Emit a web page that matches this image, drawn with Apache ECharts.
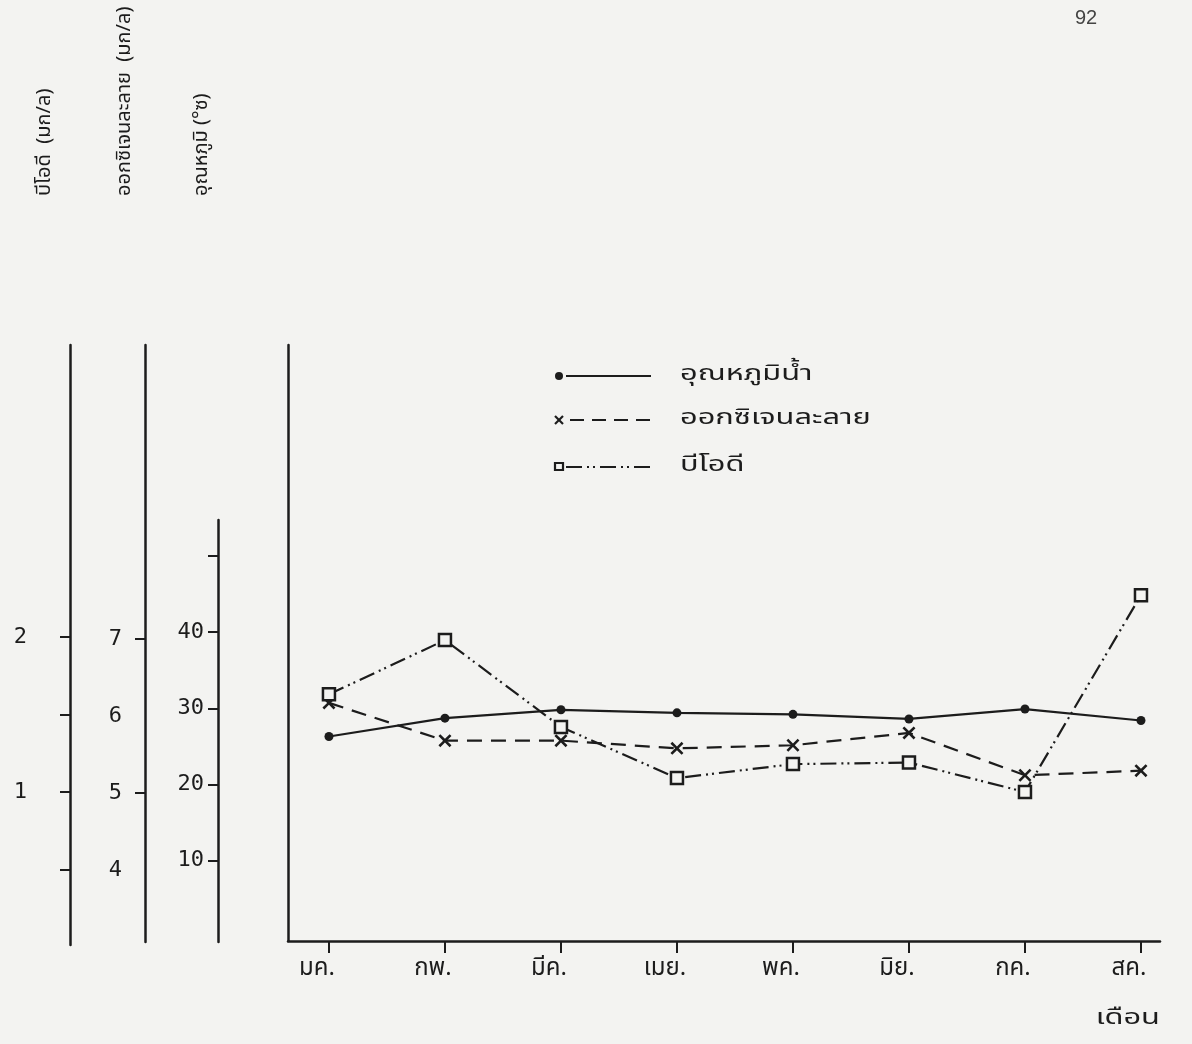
<!DOCTYPE html>
<html>
<head>
<meta charset="utf-8">
<script src="https://cdn.jsdelivr.net/npm/echarts@6/dist/echarts.min.js"></script>
<style>
html,body{margin:0;padding:0;background:#f3f3f1;}
#c{width:1192px;height:1044px;}
</style>
</head>
<body>
<div id="c"></div>
<script>
// ---- data ----
const months = ['มค.', 'กพ.', 'มีค.', 'เมย.', 'พค.', 'มิย.', 'กค.', 'สค.'];
const waterTemp = [26.3, 28.7, 29.8, 29.4, 29.2, 28.6, 29.9, 28.4];      // °C
const dissolvedO2 = [6.17, 5.68, 5.68, 5.58, 5.62, 5.78, 5.23, 5.29];    // mg/l
const bod = [1.63, 1.98, 1.42, 1.09, 1.18, 1.19, 1.00, 2.27];            // mg/l
const seriesNames = ['อุณหภูมิน้ำ', 'ออกซิเจนละลาย', 'บีโอดี'];
const bodTicks = [0.5, 1, 1.5, 2];
const bodLabels = [1, 2];
const doTicks = [5, 7];
const doLabels = [4, 5, 6, 7];
const tempTicks = [10, 20, 30, 40, 50];
const tempLabels = [10, 20, 30, 40];
const monthIndex = [0, 1, 2, 3, 4, 5, 6, 7];

const INK = '#1c1c1c';
const BG = '#f3f3f1';
const THAI = "'Noto Sans Thai','Noto Sans Thai Looped','Loma','Garuda','Norasi','Noto Sans','DejaVu Sans',sans-serif";
const MONO = "'DejaVu Sans Mono','Liberation Mono',monospace";

const pairs = arr => arr.map((v, i) => [monthIndex[i], v]);

const hiddenX = gi => ({type: 'value', gridIndex: gi, show: false, min: 0, max: 1});
const leftAxis = (gi, min, max, ticks, labels, margin) => ({
  type: 'value', gridIndex: gi, min: min, max: max, position: 'left',
  axisLine: {show: true, onZero: false, lineStyle: {color: INK, width: 2.5}},
  axisTick: {show: true, length: 10, inside: false, customValues: ticks, lineStyle: {color: INK, width: 2}},
  axisLabel: {show: true, customValues: labels, margin: margin, color: INK,
              fontFamily: MONO, fontSize: 22},
  splitLine: {show: false}
});

const chart = echarts.init(document.getElementById('c'), null, {renderer: 'canvas'});

const xMark = 'path://M0,1.4 L1.4,0 L5,3.6 L8.6,0 L10,1.4 L6.4,5 L10,8.6 L8.6,10 L5,6.4 L1.4,10 L0,8.6 L3.6,5 Z';
const wideText = (x, y, text, align, size) => ({
  type: 'text', x: x, y: y, scaleX: 1.4,
  style: {text: text, fill: INK, font: size + 'px ' + THAI, textAlign: align, textVerticalAlign: 'middle'}
});

const option = {
  backgroundColor: BG,
  animation: false,
  grid: [
    {left: 288, right: 32, top: 345, bottom: 103},   // main plot
    {left: 70, width: 1, top: 345, bottom: 99},      // BOD axis
    {left: 145, width: 1, top: 345, bottom: 102},    // DO axis
    {left: 218, width: 1, top: 520, bottom: 102}     // temperature axis
  ],
  xAxis: [
    {type: 'value', gridIndex: 0, min: -0.353, max: 7.164,
     axisLine: {show: true, onZero: false, lineStyle: {color: INK, width: 2.5}},
     axisTick: {show: true, length: 12, customValues: monthIndex, lineStyle: {color: INK, width: 2}},
     axisLabel: {show: true, customValues: monthIndex, margin: 17,
                 formatter: v => months[Math.round(v)] || '',
                 color: INK, fontFamily: THAI, fontSize: 24, padding: [0, 24, 0, 0]},
     splitLine: {show: false}},
    hiddenX(1), hiddenX(2), hiddenX(3)
  ],
  yAxis: [
    {type: 'value', gridIndex: 0, min: -0.52, max: 77.64,
     axisLine: {show: true, onZero: false, lineStyle: {color: INK, width: 2.5}},
     axisTick: {show: false}, axisLabel: {show: false}, splitLine: {show: false}},
    {type: 'value', gridIndex: 0, min: 3.078, max: 10.818, show: false},
    {type: 'value', gridIndex: 0, min: 0.0387, max: 3.884, show: false},
    leftAxis(1, 0.0129, 3.884, bodTicks, bodLabels, 43),
    leftAxis(2, 3.065, 10.818, doTicks, doLabels, 23),
    leftAxis(3, -0.656, 54.69, tempTicks, tempLabels, 14)
  ],
  series: [
    {name: seriesNames[0], type: 'line', xAxisIndex: 0, yAxisIndex: 0,
     data: pairs(waterTemp), symbol: 'circle', symbolSize: 9,
     itemStyle: {color: INK}, lineStyle: {color: INK, width: 2.2, type: 'solid'}},
    {name: seriesNames[1], type: 'line', xAxisIndex: 0, yAxisIndex: 1,
     data: pairs(dissolvedO2), symbol: xMark, symbolSize: 13,
     itemStyle: {color: INK}, lineStyle: {color: INK, width: 2.2, type: [15, 9]}},
    {name: seriesNames[2], type: 'line', xAxisIndex: 0, yAxisIndex: 2,
     data: pairs(bod), symbol: 'rect', symbolSize: 12,
     itemStyle: {color: BG, borderColor: INK, borderWidth: 2.5},
     lineStyle: {color: INK, width: 2.2, type: [16, 5, 2, 4, 2, 5]}}
  ],
  graphic: [
    // page number
    {type: 'text', x: 1075, y: 8, style: {text: '92', fill: '#444', font: "20px 'Liberation Sans',Arial,sans-serif"}},
    // rotated axis titles (read bottom-to-top)
    {type: 'text', x: 46, y: 196, rotation: Math.PI / 2,
     style: {text: 'บีโอดี  (มก/ล)', fill: INK, font: "20px " + THAI, textAlign: 'left', textVerticalAlign: 'middle'}},
    {type: 'text', x: 126, y: 196, rotation: Math.PI / 2,
     style: {text: 'ออกซิเจนละลาย  (มก/ล)', fill: INK, font: "20px " + THAI, textAlign: 'left', textVerticalAlign: 'middle'}},
    {type: 'text', x: 203, y: 196, rotation: Math.PI / 2,
     style: {text: 'อุณหภูมิ (°ซ)', fill: INK, font: "20px " + THAI, textAlign: 'left', textVerticalAlign: 'middle'}},
    // x-axis title
    wideText(1160, 1020, 'เดือน', 'right', 22),
    // legend
    {type: 'circle', shape: {cx: 559, cy: 376, r: 4}, style: {fill: INK}},
    {type: 'line', shape: {x1: 566, y1: 376, x2: 651, y2: 376}, style: {stroke: INK, lineWidth: 2.2}},
    wideText(680, 376, seriesNames[0], 'left', 22),

    {type: 'line', shape: {x1: 555, y1: 416, x2: 563, y2: 424}, style: {stroke: INK, lineWidth: 2.2}},
    {type: 'line', shape: {x1: 563, y1: 416, x2: 555, y2: 424}, style: {stroke: INK, lineWidth: 2.2}},
    {type: 'line', shape: {x1: 570, y1: 420, x2: 651, y2: 420}, style: {stroke: INK, lineWidth: 2.2, lineDash: [14, 8]}},
    wideText(680, 420, seriesNames[1], 'left', 22),

    {type: 'rect', shape: {x: 555, y: 463, width: 8, height: 7}, style: {fill: 'none', stroke: INK, lineWidth: 2.2}},
    {type: 'line', shape: {x1: 566, y1: 467, x2: 651, y2: 467}, style: {stroke: INK, lineWidth: 2.2, lineDash: [16, 5, 2, 4, 2, 5]}},
    wideText(680, 467, seriesNames[2], 'left', 22)
  ]
};
chart.setOption(option);
</script>
</body>
</html>
